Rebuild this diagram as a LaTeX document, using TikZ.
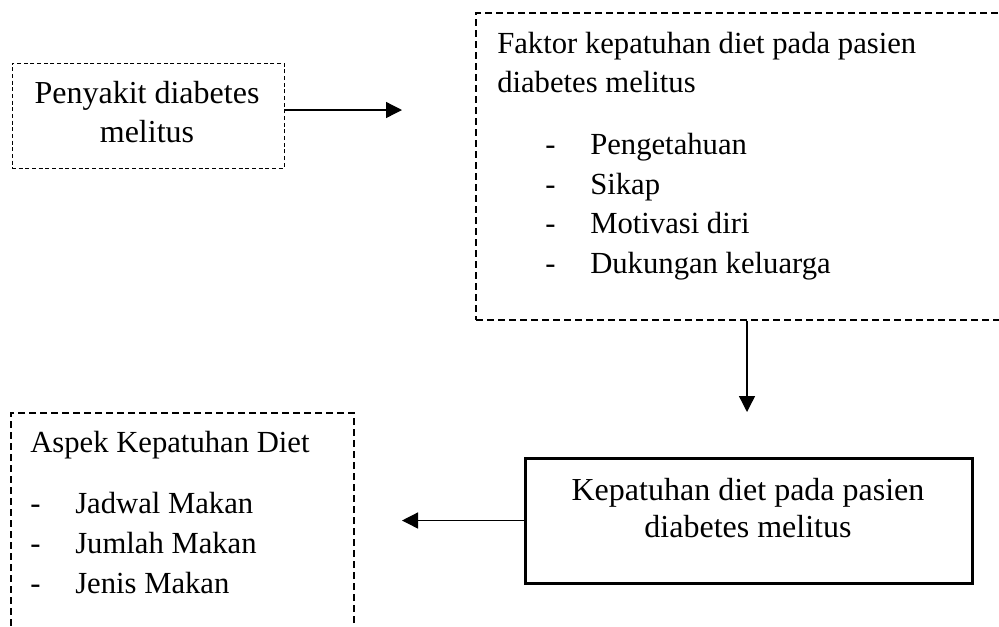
\documentclass[tikz,border=0pt]{standalone}
\usepackage{fontspec}
\setmainfont{Liberation Serif}
\usetikzlibrary{arrows.meta, positioning}

\tikzset{
  txt/.style={font=\fontsize{23}{29}\selectfont, inner sep=0pt},
  bigtxt/.style={font=\fontsize{24}{29}\selectfont, inner sep=0pt},
  finebox/.style={draw, line width=0.75pt, dash pattern=on 3pt off 2pt, inner sep=0pt},
  dashbox/.style={draw, line width=1.1pt, dash pattern=on 5.25pt off 3pt, inner sep=0pt},
  solidbox/.style={draw, line width=2.25pt, inner sep=0pt},
  link/.style={->, line width=1pt}
}

\begin{document}
\begin{tikzpicture}[x=0.75pt, y=-0.75pt, >={Triangle[length=12pt, width=12pt]}]
  \useasboundingbox (0,0) rectangle (999,626);
  \clip (0,0) rectangle (999,626);

  % boxes
  \node [finebox, minimum width=204pt, minimum height=78.75pt] (penyakit) at (148,115.5) {};
  \node [dashbox, minimum width=406.5pt, minimum height=230.25pt] (faktor) at (747,166.5) {};
  \node [dashbox, minimum width=257.25pt, minimum height=172.5pt] (aspek) at (182.5,528) {};
  \node [solidbox, minimum width=335.25pt, minimum height=93.75pt] (kepatuhan) at (748.5,520.5) {};

  % penyakit
  \node [bigtxt, anchor=base] (penyakit1) at (147,103) {Penyakit diabetes};
  \node [bigtxt, anchor=base] (penyakit2) at (147,142) {melitus};

  % faktor
  \node [txt, anchor=base west] (faktor1) at (497,53) {Faktor kepatuhan diet pada pasien};
  \node [txt, anchor=base west] (faktor2) at (497,92) {diabetes melitus};
  \node [txt, anchor=base west] (fdash1) at (545,154) {-};
  \node [txt, anchor=base west] (fdash2) at (545,194) {-};
  \node [txt, anchor=base west] (fdash3) at (545,233) {-};
  \node [txt, anchor=base west] (fdash4) at (545,273) {-};
  \node [txt, anchor=base west] (fitem1) at (590,154) {Pengetahuan};
  \node [txt, anchor=base west] (fitem2) at (590,194) {Sikap};
  \node [txt, anchor=base west] (fitem3) at (590,233) {Motivasi diri};
  \node [txt, anchor=base west] (fitem4) at (590,273) {Dukungan keluarga};

  % kepatuhan
  \node [bigtxt, anchor=base] (kepatuhan1) at (748,500) {Kepatuhan diet pada pasien};
  \node [bigtxt, anchor=base] (kepatuhan2) at (748,537) {diabetes melitus};

  % aspek
  \node [txt, anchor=base west] (aspek1) at (30,452) {Aspek Kepatuhan Diet};
  \node [txt, anchor=base west] (adash1) at (30,513) {-};
  \node [txt, anchor=base west] (adash2) at (30,553) {-};
  \node [txt, anchor=base west] (adash3) at (30,593) {-};
  \node [txt, anchor=base west] (aitem1) at (75,513) {Jadwal Makan};
  \node [txt, anchor=base west] (aitem2) at (75,553) {Jumlah Makan};
  \node [txt, anchor=base west] (aitem3) at (75,593) {Jenis Makan};

  % arrows
  \coordinate (tip1) at (402,110);
  \coordinate (tip2) at (747,412);
  \coordinate (tip3) at (402,520.5);
  \draw [link] (penyakit.east |- tip1) -- (tip1);
  \draw [link] (faktor.south) -- (tip2);
  \draw [link] (kepatuhan.west) -- (tip3);
\end{tikzpicture}
\end{document}
